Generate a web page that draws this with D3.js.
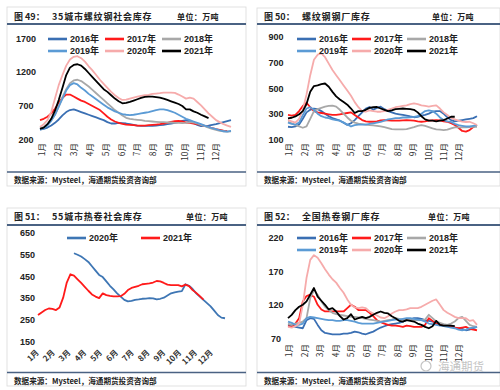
<!DOCTYPE html>
<html><head><meta charset="utf-8">
<script src="https://cdn.jsdelivr.net/npm/d3@7"></script>
<style>body{margin:0;background:#fff}</style>
</head><body>
<svg id="c" width="500" height="390"></svg>
<script>
const months = ["1月","2月","3月","4月","5月","6月","7月","8月","9月","10月","11月","12月"];
const years6 = ["2016年","2017年","2018年","2019年","2020年","2021年"];
const years2 = ["2020年","2021年"];
const colors6 = ["#3A6FB3","#FF1A1A","#A8A8A8","#5B9BD5","#F6ABAB","#000000"];
const colors2 = ["#3E76B4","#FF1A1A"];

// 图49 35城市螺纹钢社会库存 (weekly)
const p1Ticks = [200,700,1200,1700];
const p1_2016 = [340,350,370,400,440,490,550,600,630,640,620,600,580,560,540,520,500,480,450,430,430,440,435,430,420,410,400,395,395,395,395,400,405,410,420,430,440,450,470,480,460,440,410,390,395,400,410,420,435,450,465,480];
const p1_2017 = [480,500,530,580,650,740,810,860,860,830,800,770,750,720,690,660,630,580,530,490,460,440,425,415,410,405,400,400,400,405,410,415,420,430,440,455,465,470,460,445,440,430,420,410,395,380,360,345,335,325,320];
const p1_2018 = [360,380,420,480,560,680,820,940,1030,1070,1080,1060,1020,980,930,880,830,780,730,680,630,590,550,515,500,490,485,480,470,465,460,455,450,450,445,445,440,440,435,440,450,445,430,410,390,370,350,335,320,315,310,315];
const p1_2019 = [340,360,400,470,560,680,800,920,1000,1030,1010,960,920,870,830,790,750,710,670,640,610,590,570,560,555,560,570,580,590,600,615,630,640,640,630,610,590,560,530,500,480,460,440,420,400,380,360,345,330,315,310,320];
const p1_2020 = [380,420,480,600,800,1000,1150,1290,1380,1420,1430,1400,1350,1280,1220,1150,1080,1020,960,900,850,810,780,785,800,815,830,840,850,855,870,875,880,890,890,890,885,860,830,800,815,800,750,700,640,580,530,480,450,420,400,380];
const p1_2021 = [350,370,420,500,620,780,960,1150,1260,1300,1310,1290,1240,1180,1120,1060,1000,940,900,850,800,760,730,735,750,770,790,810,825,830,830,822,815,800,780,760,740,720,690,640,640,610,590,560,535,510];

// 图50 螺纹钢钢厂库存
const p2Ticks = [100,300,500,700,900];
const p2_2016 = [198,195,200,215,260,310,330,340,335,320,300,280,265,255,245,230,212,225,250,280,310,340,352,330,345,354,335,320,310,300,295,290,285,278,272,275,285,290,300,315,320,320,300,270,250,240,245,250,255,260,265,280];
const p2_2017 = [290,285,290,320,360,385,350,320,310,305,300,295,290,290,295,300,305,310,290,270,250,240,237,237,240,248,250,248,245,245,245,248,250,248,245,240,237,240,245,248,250,248,240,237,225,211,190,165,160,172,195,211];
const p2_2018 = [237,225,211,200,190,200,260,320,335,345,355,360,362,355,330,300,270,245,230,222,219,215,211,208,205,200,195,188,180,177,177,177,180,188,195,205,211,205,195,185,178,175,172,175,185,193,193,193,193,195,198,198];
const p2_2019 = [230,220,215,230,290,340,350,330,300,280,270,265,255,250,245,230,215,200,210,215,215,215,220,225,230,235,245,255,260,265,265,270,270,272,275,280,300,320,325,320,300,270,250,240,235,220,210,205,200,200,205,210];
const p2_2020 = [250,240,230,260,330,450,600,720,760,770,740,690,640,600,560,520,480,440,390,350,320,315,325,320,315,315,320,330,340,350,355,360,365,375,380,375,365,360,355,360,365,340,310,290,265,255,245,238,235,237,225,211];
const p2_2021 = [263,268,278,295,320,375,470,515,520,530,535,510,470,435,410,390,370,340,305,320,320,330,345,350,352,340,330,320,325,335,338,340,338,335,330,310,280,255,245,245,240,245,250,262,276,276];

// 图51 55城市热卷社会库存
const p3Ticks = [150,250,350,450,550,650];
const p3_2020 = [null,null,null,null,null,null,null,null,null,null,555,548,540,528,515,495,475,455,445,425,405,388,370,355,340,333,335,340,342,345,346,348,347,342,345,350,360,370,375,378,380,412,405,390,370,355,340,325,310,290,270,258,255];
const p3_2021 = [270,282,293,300,298,293,305,350,420,458,452,435,418,400,382,365,355,348,370,362,358,356,356,357,368,385,395,400,405,412,414,416,420,427,425,418,410,408,408,408,402,410,403,385,372,357,341];

// 图52 全国热卷钢厂库存
const p4Ticks = [70,120,170,220];
const p4_2016 = [90,89,87,86,85,97,100,99,90,82,78,77,76,76,76,77,77,78,80,79,77,76,78,80,83,86,88,90,91,92,93,95,97,98,100,100,99,97,96,95,93,91,90,89,88,86,85,84,82,83,85,87];
const p4_2017 = [88,87,92,100,125,133,135,132,120,113,110,110,110,110,110,110,115,120,117,112,112,112,108,103,97,94,92,90,89,89,88,87,89,88,87,87,87,90,100,96,92,90,89,88,87,86,85,86,87,84,83,82];
const p4_2018 = [92,90,92,93,95,100,130,142,135,125,117,112,108,106,105,104,103,102,102,101,100,99,98,97,96,95,96,97,98,100,99,98,98,97,97,97,97,98,105,100,95,93,91,90,92,95,100,102,96,90,88,87];
const p4_2019 = [95,93,90,90,92,100,102,101,100,99,98,97,97,96,96,97,97,96,95,93,92,92,92,92,93,94,95,96,97,98,98,99,100,100,99,98,97,95,92,91,90,89,88,87,86,85,83,82,83,85,86,87];
const p4_2020 = [87,86,88,92,120,160,187,194,190,182,173,165,158,153,145,138,128,120,116,115,116,115,110,107,104,101,100,103,107,110,112,112,113,115,115,115,117,120,123,126,128,120,112,108,105,102,100,100,100,96,97,90];
const p4_2021 = [100,105,112,117,120,125,135,145,132,126,120,113,115,110,103,98,100,106,98,100,102,100,102,105,108,110,108,107,103,100,96,95,97,96,95,92,90,87,85,88,96,90,89,89,89,88];

const svg = d3.select("#c");
const CJK = "'Noto Sans CJK SC','Liberation Sans',sans-serif";
const LAT = "'Liberation Sans','Noto Sans CJK SC',sans-serif";
const barColor = "#4A6283";

function frame(box, title) {
  svg.append("rect").attr("x", box.x0).attr("y", box.y0).attr("width", box.x1 - box.x0).attr("height", box.y1 - box.y0)
    .attr("fill", "none").attr("stroke", "#DADADA").attr("stroke-width", 0.8);
  svg.append("line").attr("x1", box.x0).attr("x2", box.x1).attr("y1", box.titleLine).attr("y2", box.titleLine)
    .attr("stroke", barColor).attr("stroke-width", 2);
  svg.append("line").attr("x1", box.x0).attr("x2", box.x1).attr("y1", box.footLine).attr("y2", box.footLine)
    .attr("stroke", barColor).attr("stroke-width", 1.6);
  svg.append("text").attr("x", box.x0 + 7).attr("y", box.titleBase).text(title[0])
    .attr("font-family", CJK).attr("font-weight", "bold").attr("font-size", 9).attr("fill", "#222");
  svg.append("text").attr("x", box.x0 + 45).attr("y", box.titleBase).text(title[1])
    .attr("font-family", CJK).attr("font-weight", "bold").attr("font-size", 9).attr("letter-spacing", 0.8).attr("fill", "#222");
  svg.append("text").attr("x", box.unitX).attr("y", box.titleBase).text("单位：万吨")
    .attr("font-family", CJK).attr("font-weight", "bold").attr("font-size", 8).attr("letter-spacing", 0.4).attr("fill", "#222");
  svg.append("text").attr("x", box.x0 + 7).attr("y", box.footBase).text("数据来源：Mysteel，海通期货投资咨询部")
    .attr("font-family", CJK).attr("font-weight", "bold").attr("font-size", 7.6).attr("fill", "#222");
}

function chart(cfg) {
  const g = svg.append("g");
  const x = d3.scaleLinear().domain([0, cfg.nWeeks]).range(cfg.xr);
  const y = d3.scaleLinear().domain(cfg.yd).range(cfg.yr);
  // y axis labels
  const ya = g.append("g").attr("transform", `translate(${cfg.ylx},0)`)
    .call(d3.axisLeft(y).tickValues(cfg.ticks).tickSize(0).tickPadding(0).tickFormat(d3.format("d")));
  ya.select(".domain").remove();
  ya.selectAll("text").attr("text-anchor", "middle").attr("x", 0).attr("dy", "0.35em")
    .attr("font-family", LAT).attr("font-weight", "bold").attr("font-size", 9).attr("fill", "#222");
  // month labels
  const mx = d3.scalePoint().domain(months).range(cfg.mr);
  const xa = g.append("g").attr("transform", `translate(0,${cfg.mTop})`)
    .call(d3.axisBottom(mx).tickSize(0).tickPadding(0));
  xa.select(".domain").remove();
  xa.selectAll("text").attr("x", 0).attr("y", 0).attr("dy", "0.35em")
    .attr("text-anchor", "end").attr("transform", `rotate(${cfg.rot})`)
    .attr("font-family", CJK).attr("font-weight", cfg.rot === -45 ? "bold" : "normal")
    .attr("font-size", cfg.mSize).attr("fill", "#333");
  // lines
  const line = d3.line().defined(d => d != null).x((d, i) => x(i)).y(d => y(d));
  cfg.series.forEach(s => {
    g.append("path").attr("d", line(s.values)).attr("fill", "none")
      .attr("stroke", s.color).attr("stroke-width", s.w || 1.8).attr("stroke-linejoin", "round");
  });
  // legend
  cfg.series.forEach((s, i) => {
    const lx = cfg.legX[i % cfg.legX.length];
    const ly = cfg.legY[Math.floor(i / cfg.legX.length)];
    g.append("line").attr("x1", lx).attr("x2", lx + cfg.legLen).attr("y1", ly).attr("y2", ly)
      .attr("stroke", s.color).attr("stroke-width", 2.6);
    g.append("text").attr("x", lx + cfg.legLen + 3).attr("y", ly).attr("dy", "0.35em").text(s.name)
      .attr("font-family", LAT).attr("font-weight", "bold").attr("font-size", 9).attr("fill", "#222");
  });
}

function six(arrs) {
  return arrs.map((v, i) => ({name: years6[i], color: colors6[i], values: v}));
}

// Panel 1
frame({x0:7, x1:246, y0:7, y1:186, titleLine:24, footLine:172, titleBase:20, footBase:183, unitX:177},
      ["图 49：", "35城市螺纹钢社会库存"]);
chart({nWeeks:51, xr:[40,231], yd:[200,1700], yr:[139,38], ticks:p1Ticks, ylx:26,
       mr:[42,216], mTop:143, rot:-90, mSize:8.5,
       series: six([p1_2016,p1_2017,p1_2018,p1_2019,p1_2020,p1_2021]),
       legX:[48,105,162], legY:[39,51], legLen:19});

// Panel 2
frame({x0:257, x1:500, y0:8, y1:186, titleLine:24, footLine:172, titleBase:20, footBase:183, unitX:432},
      ["图 50：", "螺纹钢钢厂库存"]);
chart({nWeeks:51, xr:[288,477], yd:[100,900], yr:[139.3,36.7], ticks:p2Ticks, ylx:276,
       mr:[289,459], mTop:143, rot:-90, mSize:8.5,
       series: six([p2_2016,p2_2017,p2_2018,p2_2019,p2_2020,p2_2021]),
       legX:[297,352,407], legY:[39,51], legLen:19});

// Panel 3
frame({x0:7, x1:246, y0:208, y1:386, titleLine:225, footLine:372.5, titleBase:220, footBase:384, unitX:186},
      ["图 51：", "55城市热卷社会库存"]);
chart({nWeeks:52, xr:[38,225], yd:[150,650], yr:[341,232.7], ticks:p3Ticks, ylx:27.5,
       mr:[37,211], mTop:351, rot:-45, mSize:8,
       series: [p3_2020, p3_2021].map((v, i) => ({name: years2[i], color: colors2[i], values: v})),
       legX:[67,141], legY:[238], legLen:19});

// Panel 4
frame({x0:257, x1:500, y0:208, y1:386, titleLine:225, footLine:372.5, titleBase:220, footBase:384, unitX:428},
      ["图 52：", "全国热卷钢厂库存"]);
chart({nWeeks:51, xr:[288,477], yd:[70,220], yr:[338.3,237.7], ticks:p4Ticks, ylx:276,
       mr:[289,459], mTop:344, rot:-90, mSize:8.5,
       series: six([p4_2016,p4_2017,p4_2018,p4_2019,p4_2020,p4_2021]),
       legX:[297,352,407], legY:[238,250], legLen:19});

// watermark
svg.append("circle").attr("cx", 426).attr("cy", 366).attr("r", 5).attr("fill", "none").attr("stroke", "#C4C4C4").attr("stroke-width", 1.2);
svg.append("text").attr("x", 438).attr("y", 371).text("海通期货")
  .attr("font-family", CJK).attr("font-size", 11.5).attr("fill", "#C4C4C4");
</script>
</body></html>
